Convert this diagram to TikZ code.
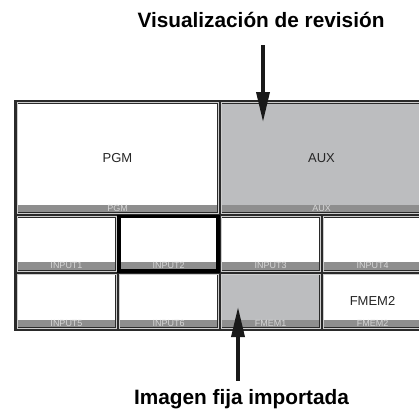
\documentclass[tikz,border=0pt]{standalone}
\usepackage{fontspec}
\setmainfont{Liberation Sans}
\usetikzlibrary{arrows.meta, positioning}
\definecolor{framedark}{RGB}{42, 42, 42}
\definecolor{rimlight}{RGB}{205, 205, 205}
\definecolor{stillgray}{RGB}{188, 189, 191}
\definecolor{bargray}{RGB}{142, 142, 142}
\definecolor{tallylight}{RGB}{214, 214, 214}

\tikzset{
  cellbase/.style={fill=white, inner sep=0pt, outer sep=0pt, anchor=north west,
    minimum width=99pt, minimum height=54.5pt, text=black!85,
    font=\fontsize{13}{15}\selectfont},
  mvcell/.style={cellbase, draw=framedark, double=rimlight, double distance=0.9pt, line width=0.6pt},
  selcell/.style={cellbase, draw=black, line width=3.2pt},
  stillcell/.style={mvcell, fill=stillgray},
  tally/.style={path picture={
    \fill[bargray] ([yshift=9pt]path picture bounding box.south west) rectangle (path picture bounding box.south east);
  }},
  tallytext/.style={text=tallylight, inner sep=0pt, font=\fontsize{9}{9}\selectfont},
  caption/.style={inner sep=0pt, anchor=base, font=\fontsize{20.8}{24}\bfseries},
  pointer/.style={-{Triangle[length=30pt, width=13pt]}, line width=3.4pt, black!90},
}

\begin{document}
\begin{tikzpicture}[x=1pt, y=-1pt]
  \useasboundingbox (0,0) rectangle (419,409);
  \clip (0,0) rectangle (419,409);

  % multiview frame
  \node[fill=framedark, inner sep=0pt, anchor=north west, minimum width=413pt, minimum height=231pt] (frame) at (14,100) {};

  \node[mvcell, minimum width=201pt, minimum height=111pt, tally] (pgm) at (17,102.5) {PGM};
  \node[stillcell, minimum width=201pt, minimum height=111pt, tally] (aux) at (221,102.5) {AUX};
  \node[tallytext] (pgm-lbl) at ([yshift=5.2pt]pgm.south) {PGM};
  \node[tallytext] (aux-lbl) at ([yshift=5.2pt]aux.south) {AUX};

  \foreach \id/\x/\y/\st/\lbl in {in1/17/216.5/mvcell/INPUT1, in2/119/216.5/selcell/INPUT2,
      in3/221/216.5/mvcell/INPUT3, in4/323/216.5/mvcell/INPUT4,
      in5/17/274/mvcell/INPUT5, in6/119/274/mvcell/INPUT6,
      fm1/221/274/stillcell/FMEM1, fm2/323/274/mvcell/FMEM2}
  {
    \node[\st, tally] (\id) at (\x,\y) {};
    \node[tallytext] (\id-lbl) at ([yshift=5.2pt]\id.south) {\lbl};
  }

  \node[font=\fontsize{13}{15}\selectfont, text=black!85] (fm2-txt) at (fm2.center) {FMEM2};

  % callouts
  \node[caption] (review) at (261,28) {Visualización de revisión};
  \coordinate (auxtip) at (263,122);
  \draw[pointer, shorten <=17pt] (review.south -| auxtip) -- (auxtip);

  \node[caption] (still) at (241.5,404) {Imagen fija importada};
  \coordinate (stilltip) at (238,307);
  \draw[pointer, shorten <=8pt] (still.north -| stilltip) -- (stilltip);
\end{tikzpicture}
\end{document}
